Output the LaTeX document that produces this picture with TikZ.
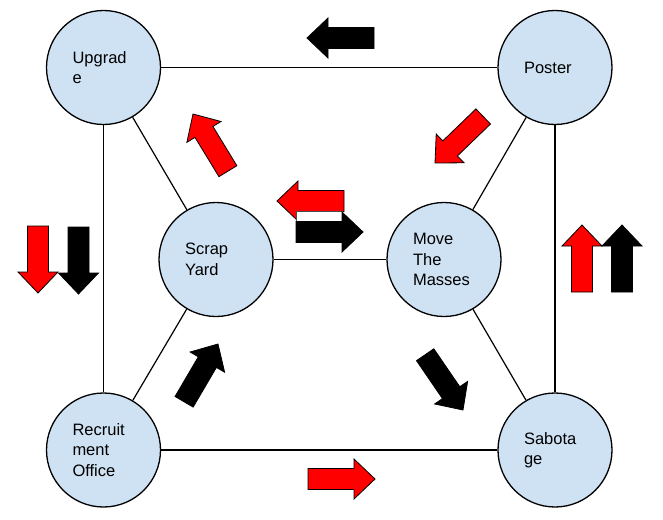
\documentclass[tikz,border=0pt]{standalone}
\usepackage{fontspec}
\setmainfont{Liberation Sans}
\definecolor{nodeblue}{HTML}{CFE2F3}
\definecolor{arrowred}{HTML}{FF0000}
\tikzset{
  stage/.style={circle, draw=black, line width=1.3pt, fill=nodeblue,
    minimum size=114pt, inner sep=0pt, text width=62pt, align=left,
    font=\fontsize{16.5}{20.5}\selectfont},
  link/.style={draw=black, line width=1.2pt},
}
\newcommand\blockarrow[4]{%
  \filldraw[fill=#4, draw=black, line width=0.8pt, line join=miter,
    shift={(#1,#2)}, rotate=#3]
    (0,0) -- (-21,-20) -- (-21,-10.5) -- (-67,-10.5) -- (-67,10.5)
    -- (-21,10.5) -- (-21,20) -- cycle;}
\begin{document}
\begin{tikzpicture}[x=1pt, y=-1pt]
\useasboundingbox[fill=white] (0,0) rectangle (663,519);
% nodes
\node[stage] (up) at (103.5,67.5) {Upgrad\\e};
\node[stage] (po) at (555,67.5) {Poster};
\node[stage] (sy) at (216,259.5) {Scrap\\Yard};
\node[stage] (mm) at (444,259.5) {Move\\The\\Masses};
\node[stage] (ro) at (103.5,450) {Recruit\\ment\\Office};
\node[stage] (sa) at (555,450) {Sabota\\ge};
% connectors
\begin{scope}[on background layer/.style={}]
\end{scope}
\path[link] (up) -- (po);
\path[link] (up) -- (ro);
\path[link] (up) -- (sy);
\path[link] (po) -- (mm);
\path[link] (po) -- (sa);
\path[link] (sy) -- (mm);
\path[link] (sy) -- (ro);
\path[link] (mm) -- (sa);
\path[link] (ro) -- (sa);
% block arrows
\blockarrow{307}{38}{180}{black}
\blockarrow{277}{201}{180}{arrowred}
\filldraw[fill=white, draw=black!70, line width=0.6pt] (296,211) rectangle (342,221);
\blockarrow{363}{232}{0}{black}
\blockarrow{193}{114}{121.4}{arrowred}
\blockarrow{435}{163}{224}{arrowred}
\blockarrow{38}{293}{270}{arrowred}
\blockarrow{78.5}{294}{270}{black}
\blockarrow{582}{225}{90}{arrowred}
\blockarrow{622}{225}{90}{black}
\blockarrow{218}{344}{59.6}{black}
\blockarrow{463}{410}{-55.6}{black}
\blockarrow{375}{479}{0}{arrowred}
\end{tikzpicture}
\end{document}
